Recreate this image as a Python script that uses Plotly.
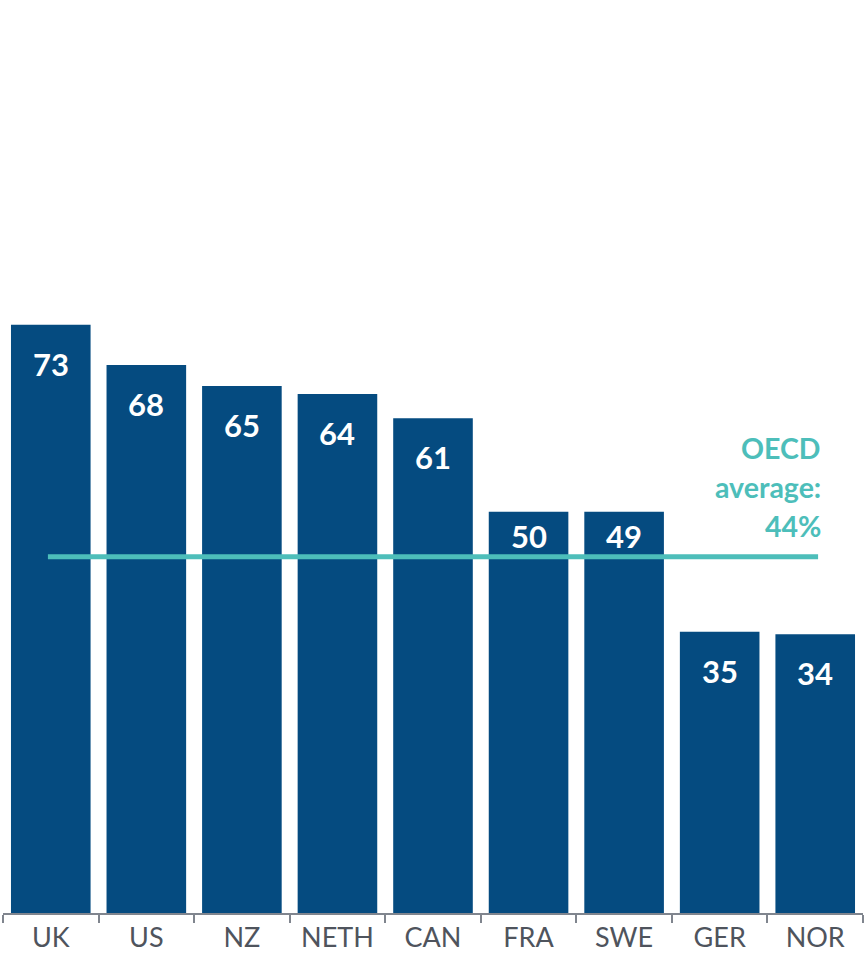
import plotly.graph_objects as go

countries = ["UK", "US", "NZ", "NETH", "CAN", "FRA", "SWE", "GER", "NOR"]
# bar heights as drawn in the picture, and the rounded labels printed on them
values = [73.0, 68.0, 65.4, 64.4, 61.4, 49.8, 49.8, 34.9, 34.6]
labels = ["73", "68", "65", "64", "61", "50", "49", "35", "34"]
oecd_avg = 44.2
oecd_label_lines = ["OECD", "average:", "44%"]

BAR = "#054b80"
TEAL = "#4dbeba"
FONT = "Lato"

fig = go.Figure()
fig.add_trace(go.Bar(x=countries, y=values, marker=dict(color=BAR, line=dict(width=0)),
                     hoverinfo="skip"))

# OECD average line from first to last category
fig.add_shape(type="line", xref="x", yref="y", x0=countries[0], x1=countries[-1],
              x0shift=-0.03, x1shift=0.03, y0=oecd_avg, y1=oecd_avg,
              line=dict(color=TEAL, width=5), layer="above")

# labels near the line are lifted to sit above it
lifted = {"FRA", "SWE"}
for c, v, t in zip(countries, values, labels):
    fig.add_annotation(x=c, y=v, text=f"<b>{t}</b>", showarrow=False,
                       yanchor="top", yshift=(-3 if c in lifted else -18),
                       font=dict(family=FONT, size=31, color="white"))

for i, line in enumerate(reversed(oecd_label_lines)):
    fig.add_annotation(x=countries[-1], y=oecd_avg, text=f"<b>{line}</b>",
                       showarrow=False, xanchor="right", yanchor="middle", align="right",
                       xshift=8, yshift=31 + 39 * i,
                       font=dict(family=FONT, size=28.5, color=TEAL))

fig.update_layout(
    width=865, height=959,
    margin=dict(l=3, r=2, t=0, b=46),
    plot_bgcolor="white", paper_bgcolor="white",
    showlegend=False, bargap=0.167,
    font=dict(family=FONT),
    xaxis=dict(showline=True, linecolor="#80858e", linewidth=1.5,
               ticks="outside", ticklen=8, tickcolor="#80858e", tickwidth=1.5,
               tickson="boundaries",
               tickfont=dict(family=FONT, size=27, color="#4f545d"),
               showgrid=False, zeroline=False, fixedrange=True),
    yaxis=dict(range=[0, 113.3], visible=False, showgrid=False, zeroline=False,
               fixedrange=True),
)

fig.write_html("out.html", config={"displayModeBar": False},
               post_script="document.body.style.margin='0';")
